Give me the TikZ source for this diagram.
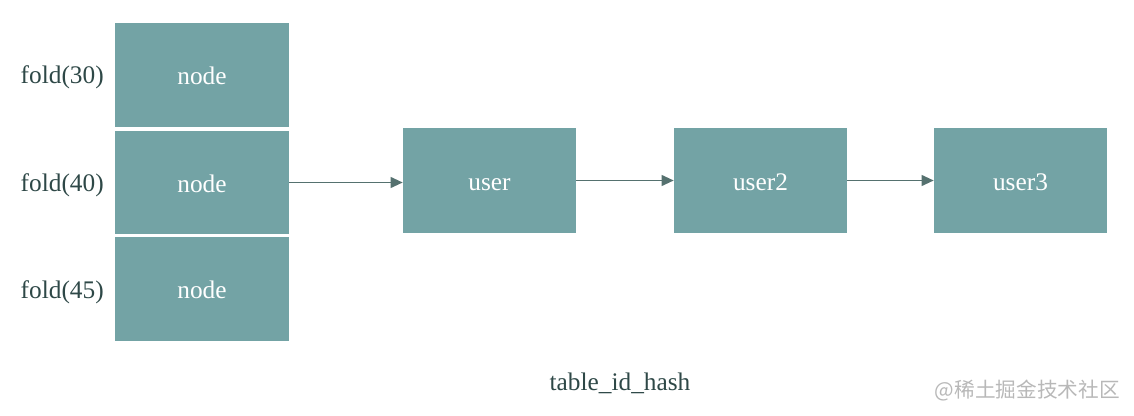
\documentclass[tikz,border=0pt]{standalone}
\usepackage{fontspec}
\setmainfont{Liberation Serif}
\newfontfamily\cjkfont{Noto Sans CJK SC}
\usetikzlibrary{arrows.meta}
\definecolor{boxfill}{HTML}{73A3A5}
\definecolor{labtext}{HTML}{2E4847}
\definecolor{arrcol}{HTML}{55716F}
\definecolor{wmark}{HTML}{B8B8B8}
\tikzset{
  box/.style={rectangle, fill=boxfill, draw=none, inner sep=0pt, text=white, font=\fontsize{19}{22}\selectfont, text height=16pt, text depth=1.5pt},
  lab/.style={text=labtext, font=\fontsize{19}{22}\selectfont, inner sep=0pt},
  link/.style={draw=arrcol, line width=1.4pt, -{Triangle[length=9pt,width=8pt]}}
}
\begin{document}
\begin{tikzpicture}[x=0.75pt,y=-0.75pt]
\useasboundingbox (0,0) rectangle (1134,416);
\node[box, minimum width=174*0.75pt, minimum height=104*0.75pt] (n1) at (202,75) {node};
\node[box, minimum width=174*0.75pt, minimum height=103*0.75pt] (n2) at (202,182.5) {node};
\node[box, minimum width=174*0.75pt, minimum height=104*0.75pt] (n3) at (202,289) {node};
\node[box, minimum width=173*0.75pt, minimum height=105*0.75pt] (u1) at (489.5,180.5) {user};
\node[box, minimum width=173*0.75pt, minimum height=105*0.75pt] (u2) at (760.5,180.5) {user2};
\node[box, minimum width=173*0.75pt, minimum height=105*0.75pt] (u3) at (1020.5,180.5) {user3};
\node[lab, anchor=east] (l1) at (104,77) {fold(30)};
\node[lab, anchor=east] (l2) at (104,185) {fold(40)};
\node[lab, anchor=east] (l3) at (104,292) {fold(45)};
\node[lab] (t) at (620,383) {table\_id\_hash};
\node[text=wmark, font=\cjkfont\fontsize{15.5}{18}\selectfont, inner sep=0pt, anchor=east] (wm) at (1120,391) {@稀土掘金技术社区};
\draw[link] (n2.east) -- (n2.east -| u1.west);
\draw[link] (u1.east) -- (u2.west);
\draw[link] (u2.east) -- (u3.west);
\end{tikzpicture}
\end{document}
